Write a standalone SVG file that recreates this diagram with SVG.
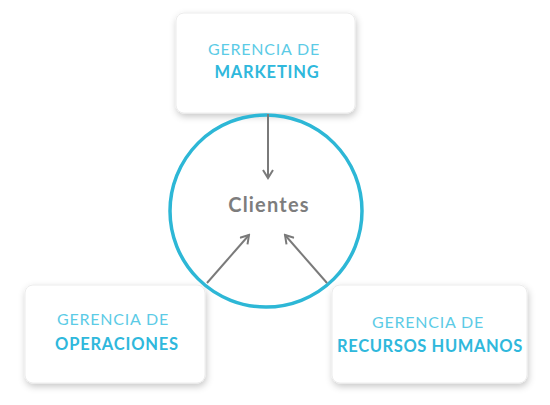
<svg xmlns="http://www.w3.org/2000/svg" width="550" height="405" viewBox="0 0 550 405">
<defs>
<filter id="sh" x="-20%" y="-20%" width="140%" height="150%">
<feDropShadow dx="1" dy="3" stdDeviation="3.5" flood-color="#000" flood-opacity="0.22"/>
</filter>
<marker id="ah" viewBox="0 0 12 12" refX="10" refY="6" markerWidth="12" markerHeight="12" markerUnits="userSpaceOnUse" orient="auto">
<path d="M2,1 L10,6 L2,11" fill="none" stroke="#7a7a7a" stroke-width="2"/>
</marker>
<style>
.box{fill:#fff;stroke:#ececec;stroke-width:1;filter:url(#sh)}
.t1{font-family:Lato,"Open Sans",sans-serif;font-size:16px;letter-spacing:0.8px;fill:#5ccbe6;text-anchor:middle}
.t2{font-family:Lato,"Open Sans",sans-serif;font-size:16.5px;letter-spacing:0.8px;font-weight:bold;fill:#2fb8dc;text-anchor:middle}
.con{stroke:#7a7a7a;stroke-width:2;fill:none;marker-end:url(#ah)}
</style>
</defs>
<rect width="550" height="405" fill="#fff"/>
<g id="marketing">
<rect class="box" x="176" y="13" width="179" height="100" rx="8"/>
<text class="t1" x="264" y="55">GERENCIA DE</text>
<text class="t2" x="267" y="78">MARKETING</text>
</g>
<g id="operaciones">
<rect class="box" x="25" y="285" width="180" height="98" rx="8"/>
<text class="t1" x="113" y="325">GERENCIA DE</text>
<text class="t2" x="117" y="350">OPERACIONES</text>
</g>
<g id="rrhh">
<rect class="box" x="332" y="285" width="195" height="98" rx="8"/>
<text class="t1" x="428" y="328">GERENCIA DE</text>
<text class="t2" x="430" y="352" style="letter-spacing:0.6px">RECURSOS HUMANOS</text>
</g>
<g id="clientes">
<circle cx="266" cy="211" r="96" fill="none" stroke="#2db7d6" stroke-width="3.5"/>
<text x="269" y="212" font-family="Lato,'Open Sans',sans-serif" font-size="20" letter-spacing="1.2" font-weight="bold" fill="#7d7d7d" text-anchor="middle">Clientes</text>
</g>
<g id="connectors">
<line class="con" x1="268" y1="114" x2="268" y2="178"/>
<line class="con" x1="207" y1="283" x2="249" y2="235"/>
<line class="con" x1="327" y1="283" x2="285" y2="235"/>
</g>
</svg>
